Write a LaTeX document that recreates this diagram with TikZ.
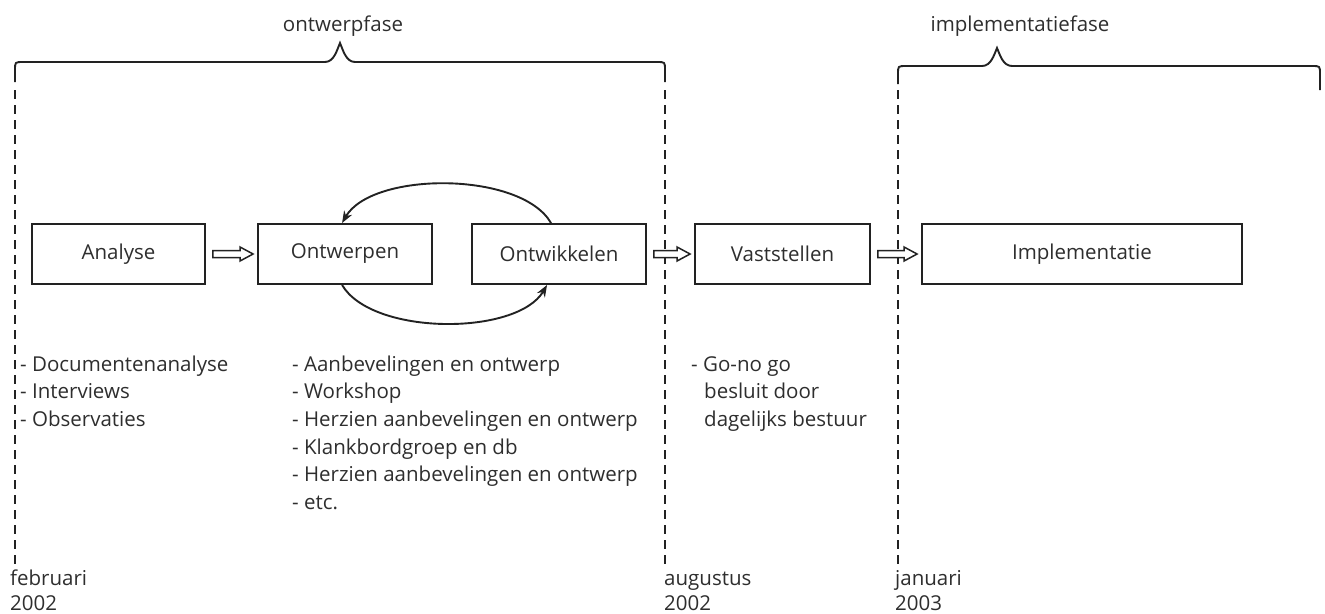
\documentclass[tikz,border=0pt]{standalone}
\usepackage{fontspec}
\setmainfont{Open Sans}
\usetikzlibrary{calc,arrows.meta}
\definecolor{linec}{HTML}{222222}
\definecolor{textc}{HTML}{2E2E2E}
\newcommand{\fz}{\fontsize{20.5}{24}\selectfont}
\begin{document}
\begin{tikzpicture}[x=1pt,y=-1pt,
  box/.style={draw=linec, line width=1.9pt, inner sep=0pt, minimum height=60pt, text=textc, font=\fz},
  lbl/.style={inner sep=0pt, text=textc, font=\fz, anchor=base west},
  blockarr/.style={draw=linec, line width=1.5pt, fill=white, line join=miter},
  looparr/.style={draw=linec, line width=1.9pt, -{Stealth[length=12pt,width=9pt]}},
  bracestyle/.style={draw=linec, line width=1.9pt},
  timeline/.style={draw=linec, line width=1.6pt, dash pattern=on 9pt off 6pt}]
\useasboundingbox (0,0) rectangle (1325,613);

% braces
\draw[bracestyle] (15,82) -- (15,70) .. controls (15,62) .. (23,62) -- (325,62)
  .. controls (334,62) and (337,50) .. (340,43) .. controls (343,50) and (346,62) .. (355,62)
  -- (657,62) .. controls (665,62) .. (665,70) -- (665,82);
\draw[bracestyle] (898,84) -- (898,74) .. controls (898,66) .. (906,66) -- (982,66)
  .. controls (991,66) and (994,55) .. (997,48) .. controls (1000,55) and (1003,66) .. (1012,66)
  -- (1312,66) .. controls (1320,66) .. (1320,74) -- (1320,90);
\node[inner sep=0pt, text=textc, font=\fz, anchor=base] (ontwerpfase) at (343,31) {ontwerpfase};
\node[inner sep=0pt, text=textc, font=\fz, anchor=base] (implfase) at (1020,31) {implementatiefase};

% timelines
\coordinate (t1a) at (15,90);  \coordinate (t1b) at (15,565);
\coordinate (t2a) at (665,90); \coordinate (t2b) at (665,565);
\coordinate (t3a) at (898,90); \coordinate (t3b) at (898,565);
\draw[timeline] (t1a) -- (t1b);
\draw[timeline] (t2a) -- (t2b);
\draw[timeline] (t3a) -- (t3b);

% boxes
\node[box, minimum width=173pt] (analyse) at (118.5,254) {Analyse};
\node[box, minimum width=174pt] (ontwerpen) at (345,254) {Ontwerpen};
\node[box, minimum width=174pt] (ontwikkelen) at (559,254) {Ontwikkelen};
\node[box, minimum width=175pt] (vaststellen) at (782.5,254) {Vaststellen};
\node[box, minimum width=320pt] (implementatie) at (1082,254) {Implementatie};

% hollow block arrows
\newcommand{\hollowarr}[2]{%
  \draw[blockarr] let \p1=($(#1.east)+(7,0)$), \p2=($(#2.west)+(-4,0)$) in
    (\x1,{\y1+3.5pt}) -- ({\x2-13pt},{\y1+3.5pt}) -- ({\x2-13pt},{\y1+7pt}) -- (\x2,\y1)
    -- ({\x2-13pt},{\y1-7pt}) -- ({\x2-13pt},{\y1-3.5pt}) -- (\x1,{\y1-3.5pt}) -- cycle;}
\hollowarr{analyse}{ontwerpen}
\hollowarr{ontwikkelen}{vaststellen}
\hollowarr{vaststellen}{implementatie}

% loop arrows
\draw[looparr] ($(ontwikkelen.north west)+(80,0)$) .. controls +(-30,-52) and +(30,-52) .. ($(ontwerpen.north west)+(85,0)$);
\draw[looparr] ($(ontwerpen.south west)+(85,0)$) .. controls +(30,51) and +(-30,51) .. ($(ontwikkelen.south west)+(76,0)$);

% lists
\node[lbl] (l1) at (20,371) {- Documentenanalyse};
\node[lbl] (l2) at (20,398.7) {- Interviews};
\node[lbl] (l3) at (20,426.4) {- Observaties};

\node[lbl] (m1) at (292,371) {- Aanbevelingen en ontwerp};
\node[lbl] (m2) at (292,398.7) {- Workshop};
\node[lbl] (m3) at (292,426.4) {- Herzien aanbevelingen en ontwerp};
\node[lbl] (m4) at (292,454.1) {- Klankbordgroep en db};
\node[lbl] (m5) at (292,481.8) {- Herzien aanbevelingen en ontwerp};
\node[lbl] (m6) at (292,509.5) {- etc.};

\node[lbl] (v1) at (691,371) {- Go-no go};
\node[lbl] (v2) at (704,398.7) {besluit door};
\node[lbl] (v3) at (704,426.4) {dagelijks bestuur};

% dates
\node[lbl] (d1a) at (10,585) {februari};
\node[lbl] (d1b) at (10,610) {2002};
\node[lbl] (d2a) at (664,585) {augustus};
\node[lbl] (d2b) at (664,610) {2002};
\node[lbl] (d3a) at (895,585) {januari};
\node[lbl] (d3b) at (895,610) {2003};
\end{tikzpicture}
\end{document}
